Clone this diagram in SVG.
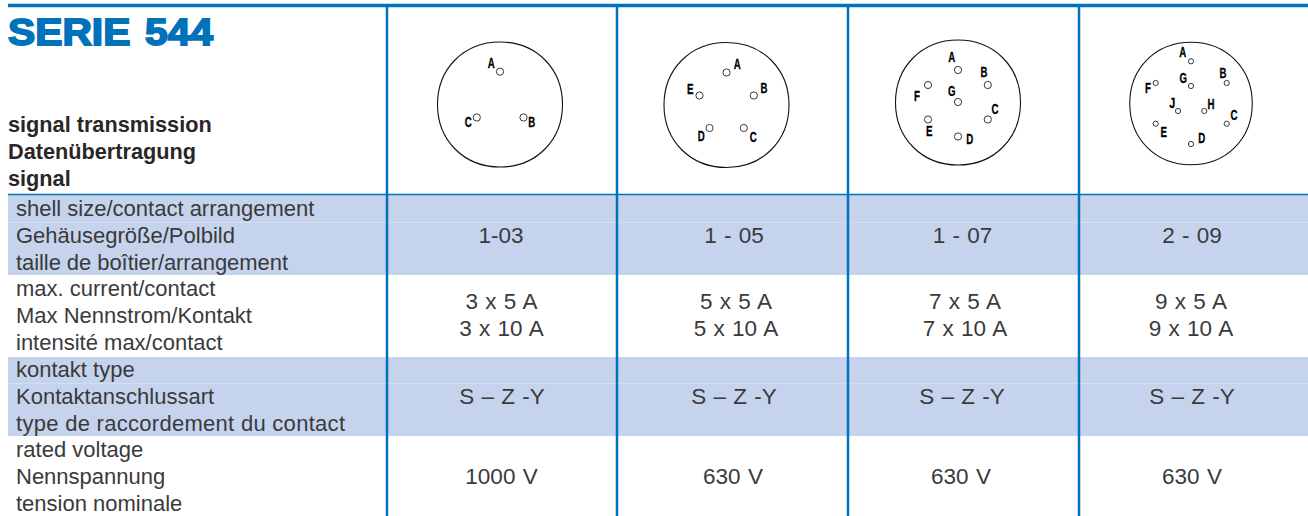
<svg xmlns="http://www.w3.org/2000/svg" width="1308" height="516" viewBox="0 0 1308 516">
<style>
text{font-family:"Liberation Sans",Arial,sans-serif}
.t{font-size:22px;fill:#3a3a3c}
.c{font-size:22.500px;fill:#3a3a3c;text-anchor:middle;word-spacing:1px}
.h{font-size:21.700px;font-weight:700;fill:#2a2627}
.p{font-size:14px;font-weight:700;fill:#000;stroke:#000;stroke-width:.3;text-anchor:middle}
.o{fill:none;stroke:#111;stroke-width:1.100}
.q{fill:none;stroke:#222;stroke-width:.9}
.b{fill:#c5d4ec}
.l{stroke:#0072bc;fill:none}
</style>
<defs>
<path id="ring" d="M0-62.500C36-62.500 62.500-36 62.500 0S36 62.500 0 62.500-62.500 36-62.500 0-36-62.500 0-62.500Z"/>
</defs>
<rect width="1308" height="516" fill="#fff"/>
<g id="bands">
<rect class="b" x="8" y="195" width="1300" height="80"/>
<rect class="b" x="8" y="357" width="1300" height="79"/>
<path d="M8 222.500H1308M8 383.500H1308" stroke="#d3def1" stroke-width="1"/>
</g>
<g id="grid">
<path class="l" stroke-width="3.500" d="M8 5.500H1308"/>
<path class="l" stroke-width="1.500" d="M8 194.500H1308"/>
<path class="l" stroke-width="2.500" d="M387 6V516M617 6V516M848 6V516M1079 6V516"/>
</g>
<g id="title">
<text x="8" y="45" style="font-size:37px;font-weight:700;fill:#0072bc;stroke:#0072bc;stroke-width:1.800;word-spacing:3px" textLength="205" lengthAdjust="spacingAndGlyphs">SERIE 544</text>
<text class="h" x="8" y="132">signal transmission</text>
<text class="h" x="8" y="159">Datenübertragung</text>
<text class="h" x="8" y="186">signal</text>
</g>
<g id="labels">
<text class="t" x="16" y="215.500">shell size/contact arrangement</text>
<text class="t" x="16" y="242.500">Gehäusegröße/Polbild</text>
<text class="t" x="16" y="269.500" textLength="272">taille de boîtier/arrangement</text>
<text class="t" x="16" y="295.500">max. current/contact</text>
<text class="t" x="16" y="322.500">Max Nennstrom/Kontakt</text>
<text class="t" x="16" y="349.500">intensité max/contact</text>
<text class="t" x="16" y="376.500">kontakt type</text>
<text class="t" x="16" y="403.500">Kontaktanschlussart</text>
<text class="t" x="16" y="430.500" textLength="329">type de raccordement du contact</text>
<text class="t" x="16" y="456.500">rated voltage</text>
<text class="t" x="16" y="483.500">Nennspannung</text>
<text class="t" x="16" y="510.500">tension nominale</text>
</g>
<g id="values">
<text class="c" x="501" y="242.500">1-03</text><text class="c" x="734" y="242.500">1 - 05</text><text class="c" x="962.500" y="242.500">1 - 07</text><text class="c" x="1192" y="242.500">2 - 09</text>
<text class="c" x="501.500" y="308.500">3 x 5 A</text><text class="c" x="736" y="308.500">5 x 5 A</text><text class="c" x="965" y="308.500">7 x 5 A</text><text class="c" x="1191" y="308.500">9 x 5 A</text>
<text class="c" x="501.500" y="335.500">3 x 10 A</text><text class="c" x="736" y="335.500">5 x 10 A</text><text class="c" x="965" y="335.500">7 x 10 A</text><text class="c" x="1191" y="335.500">9 x 10 A</text>
<text class="c" x="502" y="403.500">S – Z -Y</text><text class="c" x="734" y="403.500">S – Z -Y</text><text class="c" x="962" y="403.500">S – Z -Y</text><text class="c" x="1192" y="403.500">S – Z -Y</text>
<text class="c" x="501.500" y="483.500">1000 V</text><text class="c" x="733" y="483.500">630 V</text><text class="c" x="961" y="483.500">630 V</text><text class="c" x="1192" y="483.500">630 V</text>
</g>
<g id="arr-1-03">
<use href="#ring" class="o" x="500" y="104.500"/>
<circle class="q" cx="500" cy="71.700" r="3.600"/><circle class="q" cx="476.800" cy="117.500" r="3.600"/><circle class="q" cx="523.500" cy="117.500" r="3.600"/>
<text class="p" x="491.300" y="68.300" textLength="7" lengthAdjust="spacingAndGlyphs">A</text><text class="p" x="531.700" y="127" textLength="7" lengthAdjust="spacingAndGlyphs">B</text><text class="p" x="468.300" y="127" textLength="7" lengthAdjust="spacingAndGlyphs">C</text>
</g>
<g id="arr-1-05">
<use href="#ring" class="o" x="726.500" y="105"/>
<circle class="q" cx="726.500" cy="72.500" r="3.600"/><circle class="q" cx="753.800" cy="95.500" r="3.600"/><circle class="q" cx="743.800" cy="128" r="3.600"/><circle class="q" cx="709.500" cy="128" r="3.600"/><circle class="q" cx="699.500" cy="95.500" r="3.600"/>
<text class="p" x="737.300" y="69" textLength="7" lengthAdjust="spacingAndGlyphs">A</text><text class="p" x="764" y="93.300" textLength="7" lengthAdjust="spacingAndGlyphs">B</text><text class="p" x="753.300" y="141.700" textLength="7" lengthAdjust="spacingAndGlyphs">C</text><text class="p" x="701.300" y="141.300" textLength="7" lengthAdjust="spacingAndGlyphs">D</text><text class="p" x="690.300" y="94" textLength="6.500" lengthAdjust="spacingAndGlyphs">E</text>
</g>
<g id="arr-1-07">
<use href="#ring" class="o" x="958" y="102.500"/>
<circle class="q" cx="958" cy="70" r="3.600"/><circle class="q" cx="987.800" cy="85" r="3.600"/><circle class="q" cx="987.800" cy="119.500" r="3.600"/><circle class="q" cx="958" cy="136.500" r="3.600"/><circle class="q" cx="928" cy="119.500" r="3.600"/><circle class="q" cx="928" cy="85" r="3.600"/><circle class="q" cx="958" cy="102" r="3.600"/>
<text class="p" x="951.700" y="62" textLength="7" lengthAdjust="spacingAndGlyphs">A</text><text class="p" x="984" y="77.300" textLength="7" lengthAdjust="spacingAndGlyphs">B</text><text class="p" x="995" y="114" textLength="7" lengthAdjust="spacingAndGlyphs">C</text><text class="p" x="969.700" y="143.700" textLength="7" lengthAdjust="spacingAndGlyphs">D</text><text class="p" x="929.300" y="136.300" textLength="6.500" lengthAdjust="spacingAndGlyphs">E</text><text class="p" x="917" y="101.300" textLength="6" lengthAdjust="spacingAndGlyphs">F</text><text class="p" x="951.700" y="95.700" textLength="7.500" lengthAdjust="spacingAndGlyphs">G</text>
</g>
<g id="arr-2-09">
<use href="#ring" class="o" transform="translate(1191 103.500) scale(.98)"/>
<circle class="q" cx="1191" cy="61.300" r="2.600"/><circle class="q" cx="1226.700" cy="83" r="2.600"/><circle class="q" cx="1226.700" cy="123.700" r="2.600"/><circle class="q" cx="1191" cy="144" r="2.600"/><circle class="q" cx="1155.700" cy="123.700" r="2.600"/><circle class="q" cx="1155.700" cy="83" r="2.600"/><circle class="q" cx="1191" cy="86" r="2.600"/><circle class="q" cx="1204.300" cy="111" r="2.600"/><circle class="q" cx="1178" cy="111" r="2.600"/>
<text class="p" x="1182.700" y="57.300" textLength="7" lengthAdjust="spacingAndGlyphs">A</text><text class="p" x="1223" y="77.700" textLength="7" lengthAdjust="spacingAndGlyphs">B</text><text class="p" x="1234" y="120.300" textLength="7" lengthAdjust="spacingAndGlyphs">C</text><text class="p" x="1201.700" y="143" textLength="7" lengthAdjust="spacingAndGlyphs">D</text><text class="p" x="1163.700" y="136.700" textLength="6.500" lengthAdjust="spacingAndGlyphs">E</text><text class="p" x="1148" y="93.300" textLength="6" lengthAdjust="spacingAndGlyphs">F</text><text class="p" x="1183.300" y="82.700" textLength="7.500" lengthAdjust="spacingAndGlyphs">G</text><text class="p" x="1211" y="108.700" textLength="7" lengthAdjust="spacingAndGlyphs">H</text><text class="p" x="1172.300" y="108.300" textLength="6" lengthAdjust="spacingAndGlyphs">J</text>
</g>
</svg>
